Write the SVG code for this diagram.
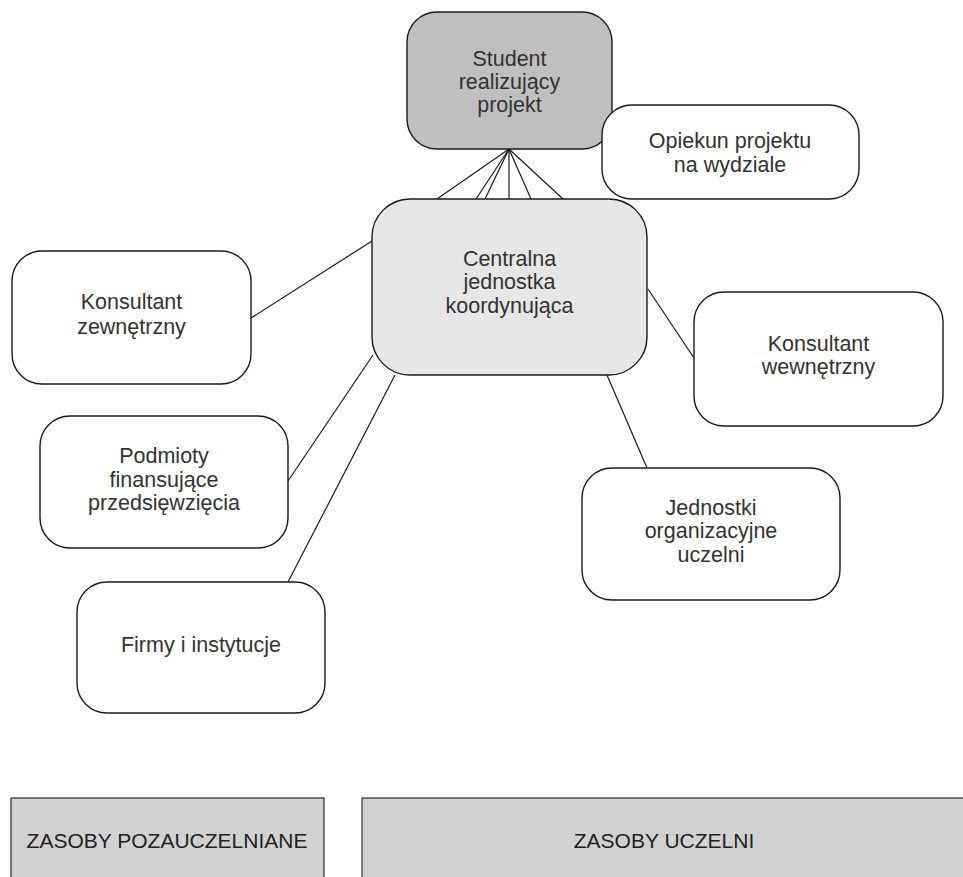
<svg xmlns="http://www.w3.org/2000/svg" width="963" height="877" viewBox="0 0 963 877">
  <style>
    .node { fill: #ffffff; stroke: #1a1a1a; stroke-width: 1.4; }
    .student { fill: #bfbfbf; }
    .central { fill: #e6e6e6; }
    .res { fill: #d1d1d1; stroke: #3a3a3a; stroke-width: 1.3; }
    .link { stroke: #1a1a1a; stroke-width: 1.2; fill: none; }
    text { font-family: "Liberation Sans", Arial, sans-serif; font-size: 21.5px; fill: #333333; text-anchor: middle; }
    .cap { font-size: 21px; fill: #222222; }
  </style>

  <rect width="963" height="877" fill="#ffffff"/>

  <!-- connectors -->
  <g id="connectors">
    <line class="link" x1="509" y1="149" x2="437" y2="199"/>
    <line class="link" x1="509" y1="149" x2="476" y2="199"/>
    <line class="link" x1="509" y1="149" x2="485" y2="199"/>
    <line class="link" x1="509" y1="149" x2="509" y2="199"/>
    <line class="link" x1="509" y1="149" x2="531" y2="199"/>
    <line class="link" x1="509" y1="149" x2="563" y2="199"/>
    <line class="link" x1="251" y1="318" x2="372" y2="241"/>
    <line class="link" x1="288" y1="481" x2="373" y2="355"/>
    <line class="link" x1="288" y1="582" x2="395" y2="375"/>
    <line class="link" x1="648" y1="289" x2="694" y2="358"/>
    <line class="link" x1="607" y1="375" x2="647" y2="468"/>
  </g>

  <g id="student">
    <rect class="node student" x="407" y="12" width="205" height="137" rx="30" ry="30"/>
    <text x="509.5" y="66">Student</text>
    <text x="509.5" y="89">realizujący</text>
    <text x="509.5" y="112">projekt</text>
  </g>

  <g id="central">
    <rect class="node central" x="372" y="199" width="275" height="176" rx="38" ry="38"/>
    <text x="509.5" y="266">Centralna</text>
    <text x="509.5" y="289">jednostka</text>
    <text x="509.5" y="313">koordynująca</text>
  </g>

  <g id="opiekun">
    <rect class="node" x="602" y="105" width="257" height="94" rx="30" ry="30"/>
    <text x="730" y="148">Opiekun projektu</text>
    <text x="730" y="172">na wydziale</text>
  </g>

  <g id="konsultant-zewnetrzny">
    <rect class="node" x="12" y="251" width="239" height="133" rx="30" ry="30"/>
    <text x="131.5" y="309">Konsultant</text>
    <text x="131.5" y="334">zewnętrzny</text>
  </g>

  <g id="podmioty">
    <rect class="node" x="40" y="416" width="248" height="132" rx="30" ry="30"/>
    <text x="164" y="463">Podmioty</text>
    <text x="164" y="487">finansujące</text>
    <text x="164" y="510">przedsięwzięcia</text>
  </g>

  <g id="firmy">
    <rect class="node" x="77" y="582" width="248" height="131" rx="30" ry="30"/>
    <text x="201" y="652">Firmy i instytucje</text>
  </g>

  <g id="konsultant-wewnetrzny">
    <rect class="node" x="694" y="292" width="249" height="134" rx="30" ry="30"/>
    <text x="818.5" y="351">Konsultant</text>
    <text x="818.5" y="374">wewnętrzny</text>
  </g>

  <g id="jednostki">
    <rect class="node" x="582" y="468" width="258" height="132" rx="30" ry="30"/>
    <text x="711" y="515">Jednostki</text>
    <text x="711" y="538">organizacyjne</text>
    <text x="711" y="562">uczelni</text>
  </g>

  <g id="zasoby-pozauczelniane">
    <rect class="res" x="11" y="798" width="313" height="100"/>
    <text class="cap" x="167" y="848">ZASOBY POZAUCZELNIANE</text>
  </g>

  <g id="zasoby-uczelni">
    <rect class="res" x="362" y="798" width="620" height="100"/>
    <text class="cap" x="664" y="848">ZASOBY UCZELNI</text>
  </g>
</svg>
